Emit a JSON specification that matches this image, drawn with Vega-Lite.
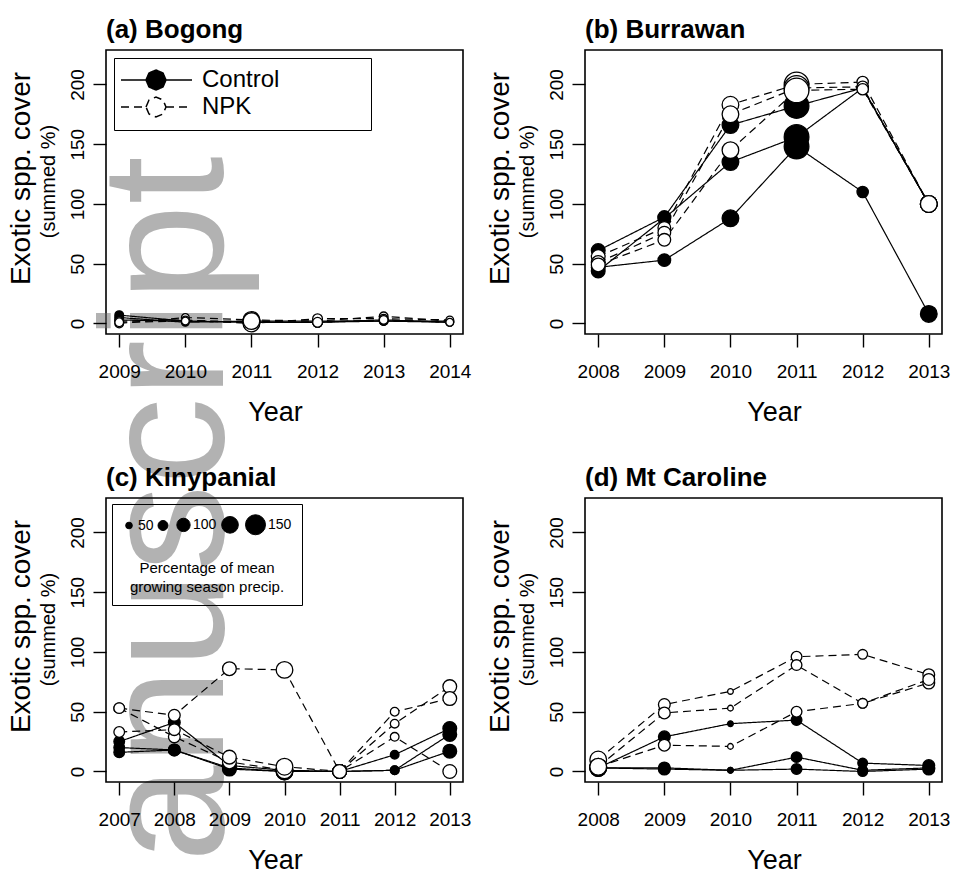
{
  "$schema": "https://vega.github.io/schema/vega-lite/v6.json",
  "padding": {"left": 6, "top": 16, "right": 5, "bottom": 5},
  "autosize": {"type": "pad"},
  "bounds": "flush",
  "background": "white",
  "datasets": {
    "cover": [
      {"site":"Bogong","year":2009,"treatment":"Control","series":"C1","cover":7,"precip":65},
      {"site":"Bogong","year":2010,"treatment":"Control","series":"C1","cover":2,"precip":58},
      {"site":"Bogong","year":2011,"treatment":"Control","series":"C1","cover":1,"precip":125},
      {"site":"Bogong","year":2012,"treatment":"Control","series":"C1","cover":1,"precip":73},
      {"site":"Bogong","year":2013,"treatment":"Control","series":"C1","cover":2,"precip":65},
      {"site":"Bogong","year":2014,"treatment":"Control","series":"C1","cover":1,"precip":58},
      {"site":"Bogong","year":2009,"treatment":"Control","series":"C2","cover":5,"precip":65},
      {"site":"Bogong","year":2010,"treatment":"Control","series":"C2","cover":1,"precip":58},
      {"site":"Bogong","year":2011,"treatment":"Control","series":"C2","cover":2,"precip":125},
      {"site":"Bogong","year":2012,"treatment":"Control","series":"C2","cover":2,"precip":73},
      {"site":"Bogong","year":2013,"treatment":"Control","series":"C2","cover":2,"precip":65},
      {"site":"Bogong","year":2014,"treatment":"Control","series":"C2","cover":2,"precip":58},
      {"site":"Bogong","year":2009,"treatment":"Control","series":"C3","cover":3,"precip":65},
      {"site":"Bogong","year":2010,"treatment":"Control","series":"C3","cover":2,"precip":58},
      {"site":"Bogong","year":2011,"treatment":"Control","series":"C3","cover":1,"precip":125},
      {"site":"Bogong","year":2012,"treatment":"Control","series":"C3","cover":1,"precip":73},
      {"site":"Bogong","year":2013,"treatment":"Control","series":"C3","cover":3,"precip":65},
      {"site":"Bogong","year":2014,"treatment":"Control","series":"C3","cover":1,"precip":58},
      {"site":"Bogong","year":2009,"treatment":"NPK","series":"N1","cover":0,"precip":65},
      {"site":"Bogong","year":2010,"treatment":"NPK","series":"N1","cover":5,"precip":58},
      {"site":"Bogong","year":2011,"treatment":"NPK","series":"N1","cover":3,"precip":125},
      {"site":"Bogong","year":2012,"treatment":"NPK","series":"N1","cover":2,"precip":73},
      {"site":"Bogong","year":2013,"treatment":"NPK","series":"N1","cover":6,"precip":65},
      {"site":"Bogong","year":2014,"treatment":"NPK","series":"N1","cover":2,"precip":58},
      {"site":"Bogong","year":2009,"treatment":"NPK","series":"N2","cover":2,"precip":65},
      {"site":"Bogong","year":2010,"treatment":"NPK","series":"N2","cover":3,"precip":58},
      {"site":"Bogong","year":2011,"treatment":"NPK","series":"N2","cover":0,"precip":125},
      {"site":"Bogong","year":2012,"treatment":"NPK","series":"N2","cover":4,"precip":73},
      {"site":"Bogong","year":2013,"treatment":"NPK","series":"N2","cover":4,"precip":65},
      {"site":"Bogong","year":2014,"treatment":"NPK","series":"N2","cover":3,"precip":58},
      {"site":"Bogong","year":2009,"treatment":"NPK","series":"N3","cover":1,"precip":65},
      {"site":"Bogong","year":2010,"treatment":"NPK","series":"N3","cover":2,"precip":58},
      {"site":"Bogong","year":2011,"treatment":"NPK","series":"N3","cover":2,"precip":125},
      {"site":"Bogong","year":2012,"treatment":"NPK","series":"N3","cover":1,"precip":73},
      {"site":"Bogong","year":2013,"treatment":"NPK","series":"N3","cover":3,"precip":65},
      {"site":"Bogong","year":2014,"treatment":"NPK","series":"N3","cover":1,"precip":58},

      {"site":"Burrawan","year":2008,"treatment":"Control","series":"C1","cover":47,"precip":103},
      {"site":"Burrawan","year":2009,"treatment":"Control","series":"C1","cover":53,"precip":95},
      {"site":"Burrawan","year":2010,"treatment":"Control","series":"C1","cover":88,"precip":125},
      {"site":"Burrawan","year":2011,"treatment":"Control","series":"C1","cover":148,"precip":185},
      {"site":"Burrawan","year":2012,"treatment":"Control","series":"C1","cover":110,"precip":85},
      {"site":"Burrawan","year":2013,"treatment":"Control","series":"C1","cover":8,"precip":125},
      {"site":"Burrawan","year":2008,"treatment":"Control","series":"C2","cover":61,"precip":103},
      {"site":"Burrawan","year":2009,"treatment":"Control","series":"C2","cover":89,"precip":95},
      {"site":"Burrawan","year":2010,"treatment":"Control","series":"C2","cover":166,"precip":125},
      {"site":"Burrawan","year":2011,"treatment":"Control","series":"C2","cover":182,"precip":185},
      {"site":"Burrawan","year":2012,"treatment":"Control","series":"C2","cover":197,"precip":85},
      {"site":"Burrawan","year":2013,"treatment":"Control","series":"C2","cover":100,"precip":125},
      {"site":"Burrawan","year":2008,"treatment":"Control","series":"C3","cover":44,"precip":103},
      {"site":"Burrawan","year":2009,"treatment":"Control","series":"C3","cover":88,"precip":95},
      {"site":"Burrawan","year":2010,"treatment":"Control","series":"C3","cover":135,"precip":125},
      {"site":"Burrawan","year":2011,"treatment":"Control","series":"C3","cover":156,"precip":185},
      {"site":"Burrawan","year":2012,"treatment":"Control","series":"C3","cover":197,"precip":85},
      {"site":"Burrawan","year":2013,"treatment":"Control","series":"C3","cover":100,"precip":125},
      {"site":"Burrawan","year":2008,"treatment":"NPK","series":"N1","cover":56,"precip":103},
      {"site":"Burrawan","year":2009,"treatment":"NPK","series":"N1","cover":80,"precip":95},
      {"site":"Burrawan","year":2010,"treatment":"NPK","series":"N1","cover":183,"precip":125},
      {"site":"Burrawan","year":2011,"treatment":"NPK","series":"N1","cover":200,"precip":185},
      {"site":"Burrawan","year":2012,"treatment":"NPK","series":"N1","cover":202,"precip":85},
      {"site":"Burrawan","year":2013,"treatment":"NPK","series":"N1","cover":100,"precip":125},
      {"site":"Burrawan","year":2008,"treatment":"NPK","series":"N2","cover":51,"precip":103},
      {"site":"Burrawan","year":2009,"treatment":"NPK","series":"N2","cover":76,"precip":95},
      {"site":"Burrawan","year":2010,"treatment":"NPK","series":"N2","cover":175,"precip":125},
      {"site":"Burrawan","year":2011,"treatment":"NPK","series":"N2","cover":197,"precip":185},
      {"site":"Burrawan","year":2012,"treatment":"NPK","series":"N2","cover":198,"precip":85},
      {"site":"Burrawan","year":2013,"treatment":"NPK","series":"N2","cover":100,"precip":125},
      {"site":"Burrawan","year":2008,"treatment":"NPK","series":"N3","cover":49,"precip":103},
      {"site":"Burrawan","year":2009,"treatment":"NPK","series":"N3","cover":70,"precip":95},
      {"site":"Burrawan","year":2010,"treatment":"NPK","series":"N3","cover":145,"precip":125},
      {"site":"Burrawan","year":2011,"treatment":"NPK","series":"N3","cover":195,"precip":185},
      {"site":"Burrawan","year":2012,"treatment":"NPK","series":"N3","cover":196,"precip":85},
      {"site":"Burrawan","year":2013,"treatment":"NPK","series":"N3","cover":100,"precip":125},

      {"site":"Kinypanial","year":2007,"treatment":"Control","series":"C1","cover":25,"precip":80},
      {"site":"Kinypanial","year":2008,"treatment":"Control","series":"C1","cover":41,"precip":88},
      {"site":"Kinypanial","year":2009,"treatment":"Control","series":"C1","cover":5,"precip":103},
      {"site":"Kinypanial","year":2010,"treatment":"Control","series":"C1","cover":1,"precip":125},
      {"site":"Kinypanial","year":2011,"treatment":"Control","series":"C1","cover":0,"precip":103},
      {"site":"Kinypanial","year":2012,"treatment":"Control","series":"C1","cover":14,"precip":65},
      {"site":"Kinypanial","year":2013,"treatment":"Control","series":"C1","cover":36,"precip":103},
      {"site":"Kinypanial","year":2007,"treatment":"Control","series":"C2","cover":20,"precip":80},
      {"site":"Kinypanial","year":2008,"treatment":"Control","series":"C2","cover":18,"precip":88},
      {"site":"Kinypanial","year":2009,"treatment":"Control","series":"C2","cover":3,"precip":103},
      {"site":"Kinypanial","year":2010,"treatment":"Control","series":"C2","cover":0,"precip":125},
      {"site":"Kinypanial","year":2011,"treatment":"Control","series":"C2","cover":0,"precip":103},
      {"site":"Kinypanial","year":2012,"treatment":"Control","series":"C2","cover":1,"precip":65},
      {"site":"Kinypanial","year":2013,"treatment":"Control","series":"C2","cover":31,"precip":103},
      {"site":"Kinypanial","year":2007,"treatment":"Control","series":"C3","cover":16,"precip":80},
      {"site":"Kinypanial","year":2008,"treatment":"Control","series":"C3","cover":18,"precip":88},
      {"site":"Kinypanial","year":2009,"treatment":"Control","series":"C3","cover":2,"precip":103},
      {"site":"Kinypanial","year":2010,"treatment":"Control","series":"C3","cover":0,"precip":125},
      {"site":"Kinypanial","year":2011,"treatment":"Control","series":"C3","cover":0,"precip":103},
      {"site":"Kinypanial","year":2012,"treatment":"Control","series":"C3","cover":1,"precip":65},
      {"site":"Kinypanial","year":2013,"treatment":"Control","series":"C3","cover":17,"precip":103},
      {"site":"Kinypanial","year":2007,"treatment":"NPK","series":"N1","cover":53,"precip":80},
      {"site":"Kinypanial","year":2008,"treatment":"NPK","series":"N1","cover":47,"precip":88},
      {"site":"Kinypanial","year":2009,"treatment":"NPK","series":"N1","cover":86,"precip":103},
      {"site":"Kinypanial","year":2010,"treatment":"NPK","series":"N1","cover":85,"precip":125},
      {"site":"Kinypanial","year":2011,"treatment":"NPK","series":"N1","cover":0,"precip":103},
      {"site":"Kinypanial","year":2012,"treatment":"NPK","series":"N1","cover":40,"precip":65},
      {"site":"Kinypanial","year":2013,"treatment":"NPK","series":"N1","cover":71,"precip":103},
      {"site":"Kinypanial","year":2007,"treatment":"NPK","series":"N2","cover":53,"precip":80},
      {"site":"Kinypanial","year":2008,"treatment":"NPK","series":"N2","cover":29,"precip":88},
      {"site":"Kinypanial","year":2009,"treatment":"NPK","series":"N2","cover":8,"precip":103},
      {"site":"Kinypanial","year":2010,"treatment":"NPK","series":"N2","cover":1,"precip":125},
      {"site":"Kinypanial","year":2011,"treatment":"NPK","series":"N2","cover":0,"precip":103},
      {"site":"Kinypanial","year":2012,"treatment":"NPK","series":"N2","cover":50,"precip":65},
      {"site":"Kinypanial","year":2013,"treatment":"NPK","series":"N2","cover":61,"precip":103},
      {"site":"Kinypanial","year":2007,"treatment":"NPK","series":"N3","cover":33,"precip":80},
      {"site":"Kinypanial","year":2008,"treatment":"NPK","series":"N3","cover":35,"precip":88},
      {"site":"Kinypanial","year":2009,"treatment":"NPK","series":"N3","cover":12,"precip":103},
      {"site":"Kinypanial","year":2010,"treatment":"NPK","series":"N3","cover":4,"precip":125},
      {"site":"Kinypanial","year":2011,"treatment":"NPK","series":"N3","cover":0,"precip":103},
      {"site":"Kinypanial","year":2012,"treatment":"NPK","series":"N3","cover":29,"precip":65},
      {"site":"Kinypanial","year":2013,"treatment":"NPK","series":"N3","cover":0,"precip":103},

      {"site":"Mt Caroline","year":2008,"treatment":"Control","series":"C1","cover":3,"precip":125},
      {"site":"Mt Caroline","year":2009,"treatment":"Control","series":"C1","cover":29,"precip":88},
      {"site":"Mt Caroline","year":2010,"treatment":"Control","series":"C1","cover":40,"precip":43},
      {"site":"Mt Caroline","year":2011,"treatment":"Control","series":"C1","cover":43,"precip":80},
      {"site":"Mt Caroline","year":2012,"treatment":"Control","series":"C1","cover":7,"precip":73},
      {"site":"Mt Caroline","year":2013,"treatment":"Control","series":"C1","cover":5,"precip":88},
      {"site":"Mt Caroline","year":2008,"treatment":"Control","series":"C2","cover":3,"precip":125},
      {"site":"Mt Caroline","year":2009,"treatment":"Control","series":"C2","cover":3,"precip":88},
      {"site":"Mt Caroline","year":2010,"treatment":"Control","series":"C2","cover":1,"precip":43},
      {"site":"Mt Caroline","year":2011,"treatment":"Control","series":"C2","cover":12,"precip":80},
      {"site":"Mt Caroline","year":2012,"treatment":"Control","series":"C2","cover":1,"precip":73},
      {"site":"Mt Caroline","year":2013,"treatment":"Control","series":"C2","cover":3,"precip":88},
      {"site":"Mt Caroline","year":2008,"treatment":"Control","series":"C3","cover":3,"precip":125},
      {"site":"Mt Caroline","year":2009,"treatment":"Control","series":"C3","cover":2,"precip":88},
      {"site":"Mt Caroline","year":2010,"treatment":"Control","series":"C3","cover":1,"precip":43},
      {"site":"Mt Caroline","year":2011,"treatment":"Control","series":"C3","cover":2,"precip":80},
      {"site":"Mt Caroline","year":2012,"treatment":"Control","series":"C3","cover":0,"precip":73},
      {"site":"Mt Caroline","year":2013,"treatment":"Control","series":"C3","cover":2,"precip":88},
      {"site":"Mt Caroline","year":2008,"treatment":"NPK","series":"N1","cover":10,"precip":125},
      {"site":"Mt Caroline","year":2009,"treatment":"NPK","series":"N1","cover":56,"precip":88},
      {"site":"Mt Caroline","year":2010,"treatment":"NPK","series":"N1","cover":67,"precip":43},
      {"site":"Mt Caroline","year":2011,"treatment":"NPK","series":"N1","cover":96,"precip":80},
      {"site":"Mt Caroline","year":2012,"treatment":"NPK","series":"N1","cover":98,"precip":73},
      {"site":"Mt Caroline","year":2013,"treatment":"NPK","series":"N1","cover":81,"precip":88},
      {"site":"Mt Caroline","year":2008,"treatment":"NPK","series":"N2","cover":4,"precip":125},
      {"site":"Mt Caroline","year":2009,"treatment":"NPK","series":"N2","cover":49,"precip":88},
      {"site":"Mt Caroline","year":2010,"treatment":"NPK","series":"N2","cover":53,"precip":43},
      {"site":"Mt Caroline","year":2011,"treatment":"NPK","series":"N2","cover":89,"precip":80},
      {"site":"Mt Caroline","year":2012,"treatment":"NPK","series":"N2","cover":57,"precip":73},
      {"site":"Mt Caroline","year":2013,"treatment":"NPK","series":"N2","cover":74,"precip":88},
      {"site":"Mt Caroline","year":2008,"treatment":"NPK","series":"N3","cover":4,"precip":125},
      {"site":"Mt Caroline","year":2009,"treatment":"NPK","series":"N3","cover":22,"precip":88},
      {"site":"Mt Caroline","year":2010,"treatment":"NPK","series":"N3","cover":21,"precip":43},
      {"site":"Mt Caroline","year":2011,"treatment":"NPK","series":"N3","cover":50,"precip":80},
      {"site":"Mt Caroline","year":2012,"treatment":"NPK","series":"N3","cover":57,"precip":73},
      {"site":"Mt Caroline","year":2013,"treatment":"NPK","series":"N3","cover":77,"precip":88}
    ]
  },
  "columns": 2,
  "spacing": {"row": 164, "column": 122},
  "concat": [
    {
      "width": 357, "height": 284,
      "title": "(a) Bogong",
      "layer": [
        {
          "data": {"values": [{"label": "anuscript"}]},
          "mark": {"type": "text", "angle": 270, "align": "right", "baseline": "alphabetic", "fontSize": 174, "font": "Liberation Sans", "fill": "#666666", "fillOpacity": 0.5},
          "encoding": {
            "x": {"datum": 2010.57, "type": "quantitative", "scale": {"domain": [2008.8, 2014.2], "nice": false, "zero": false},
                  "axis": {"zindex": 1, "values": [2009, 2010, 2011, 2012, 2013, 2014], "format": "d", "labelFlush": false, "labelOverlap": false, "labelPadding": 15, "title": "Year", "titleFontSize": 27, "titlePadding": 18, "titleX": 169}},
            "y": {"datum": 140, "type": "quantitative", "axis": null},
            "text": {"field": "label", "type": "nominal"}
          }
        },
        {
          "data": {"name": "cover"},
          "transform": [{"filter": "datum.site === 'Bogong'"}],
          "mark": {"type": "line", "color": "black", "strokeWidth": 1.2},
          "encoding": {
            "x": {"field": "year", "type": "quantitative", "scale": {"domain": [2008.8, 2014.2], "nice": false, "zero": false},
                  "axis": {"zindex": 1, "values": [2009, 2010, 2011, 2012, 2013, 2014], "format": "d", "labelFlush": false, "labelOverlap": false, "labelPadding": 15, "title": "Year", "titleFontSize": 27, "titlePadding": 18, "titleX": 169}},
            "y": {"field": "cover", "type": "quantitative", "scale": {"domain": [-8.8, 228.8], "nice": false, "zero": false},
                  "axis": {"zindex": 1, "orient": "left", "values": [0, 50, 100, 150, 200], "labelAngle": 270, "labelAlign": "center", "labelBaseline": "bottom", "labelPadding": 6, "title": "(summed %)", "titleFontSize": 20, "titlePadding": 10, "titleY": 131}},
            "detail": {"field": "series"},
            "strokeDash": {"field": "treatment", "type": "nominal", "scale": {"domain": ["Control", "NPK"], "range": [[1, 0], [8, 5]]},
                           "legend": {"orient": "top-left", "offset": 8, "title": null, "padding": 10, "strokeColor": "black", "fillColor": "white",
                                      "symbolSize": 400, "symbolType": "M-3.5,0H-1M1,0H3.6M-1,0L-0.7,-0.7L0,-1L0.7,-0.7L1,0L0.7,0.7L0,1L-0.7,0.7ZM20.1,0h0.001",
                                      "symbolStrokeColor": "black", "symbolStrokeWidth": 1.5, "symbolOffset": 20,
                                      "labelFontSize": 24, "labelColor": "black", "labelOffset": 34, "rowPadding": 1}}
          }
        },
        {
          "data": {"name": "cover"},
          "transform": [{"filter": "datum.site === 'Bogong'"}],
          "mark": {"type": "point", "filled": true, "shape": "circle", "stroke": "black", "strokeWidth": 1.3, "opacity": 1},
          "encoding": {
            "x": {"field": "year", "type": "quantitative", "scale": {"domain": [2008.8, 2014.2], "nice": false, "zero": false},
                  "axis": {"zindex": 1, "values": [2009, 2010, 2011, 2012, 2013, 2014], "format": "d", "labelFlush": false, "labelOverlap": false, "labelPadding": 15, "title": "Year", "titleFontSize": 27, "titlePadding": 18, "titleX": 169}},
            "y": {"field": "cover", "type": "quantitative", "scale": {"domain": [-8.8, 228.8], "nice": false, "zero": false},
                  "axis": {"orient": "left", "labels": false, "ticks": false, "domain": false, "title": "Exotic spp. cover", "titleFontSize": 28, "titlePadding": 71, "titleY": 128}},
            "fill": {"field": "treatment", "type": "nominal", "scale": {"domain": ["Control", "NPK"], "range": ["black", "white"]},
                     "legend": {"orient": "top-left", "offset": 8, "title": null, "padding": 10, "strokeColor": "black", "fillColor": "white",
                                "symbolSize": 400, "symbolType": "M-3.5,0H-1M1,0H3.6M-1,0L-0.7,-0.7L0,-1L0.7,-0.7L1,0L0.7,0.7L0,1L-0.7,0.7ZM20.1,0h0.001",
                                "symbolStrokeColor": "black", "symbolStrokeWidth": 1.5, "symbolOffset": 20,
                                "labelFontSize": 24, "labelColor": "black", "labelOffset": 34, "rowPadding": 1}},
            "size": {"field": "precip", "type": "quantitative", "scale": {"type": "pow", "exponent": 2, "domain": [0, 150], "range": [0, 400]}, "legend": null}
          }
        }
      ],
      "resolve": {"axis": {"y": "independent"}}
    },
    {
      "width": 357, "height": 284,
      "title": "(b) Burrawan",
      "encoding": {
        "x": {"field": "year", "type": "quantitative", "scale": {"domain": [2007.8, 2013.2], "nice": false, "zero": false},
              "axis": {"values": [2008, 2009, 2010, 2011, 2012, 2013], "format": "d", "labelFlush": false, "labelOverlap": false, "labelPadding": 15, "title": "Year", "titleFontSize": 27, "titlePadding": 18, "titleX": 189}}
      },
      "layer": [
        {
          "data": {"name": "cover"},
          "transform": [{"filter": "datum.site === 'Burrawan'"}],
          "mark": {"type": "line", "color": "black", "strokeWidth": 1.2},
          "encoding": {
            "y": {"field": "cover", "type": "quantitative", "scale": {"domain": [-8.8, 228.8], "nice": false, "zero": false},
                  "axis": {"orient": "left", "values": [0, 50, 100, 150, 200], "labelAngle": 270, "labelAlign": "center", "labelBaseline": "bottom", "labelPadding": 6, "title": "(summed %)", "titleFontSize": 20, "titlePadding": 10, "titleY": 131}},
            "detail": {"field": "series"},
            "strokeDash": {"field": "treatment", "type": "nominal", "scale": {"domain": ["Control", "NPK"], "range": [[1, 0], [8, 5]]}, "legend": null}
          }
        },
        {
          "data": {"name": "cover"},
          "transform": [{"filter": "datum.site === 'Burrawan'"}],
          "mark": {"type": "point", "filled": true, "shape": "circle", "stroke": "black", "strokeWidth": 1.3, "opacity": 1},
          "encoding": {
            "y": {"field": "cover", "type": "quantitative", "scale": {"domain": [-8.8, 228.8], "nice": false, "zero": false},
                  "axis": {"orient": "left", "labels": false, "ticks": false, "domain": false, "title": "Exotic spp. cover", "titleFontSize": 28, "titlePadding": 71, "titleY": 128}},
            "fill": {"field": "treatment", "type": "nominal", "scale": {"domain": ["Control", "NPK"], "range": ["black", "white"]}, "legend": null},
            "size": {"field": "precip", "type": "quantitative", "scale": {"type": "pow", "exponent": 2, "domain": [0, 150], "range": [0, 400]}, "legend": null}
          }
        }
      ],
      "resolve": {"axis": {"y": "independent"}}
    },
    {
      "width": 357, "height": 284,
      "title": "(c) Kinypanial",
      "encoding": {
        "x": {"field": "year", "type": "quantitative", "scale": {"domain": [2006.76, 2013.24], "nice": false, "zero": false},
              "axis": {"values": [2007, 2008, 2009, 2010, 2011, 2012, 2013], "format": "d", "labelFlush": false, "labelOverlap": false, "labelPadding": 15, "title": "Year", "titleFontSize": 27, "titlePadding": 18, "titleX": 169}}
      },
      "layer": [
        {
          "data": {"name": "cover"},
          "transform": [{"filter": "datum.site === 'Kinypanial'"}],
          "mark": {"type": "line", "color": "black", "strokeWidth": 1.2},
          "encoding": {
            "y": {"field": "cover", "type": "quantitative", "scale": {"domain": [-8.8, 228.8], "nice": false, "zero": false},
                  "axis": {"orient": "left", "values": [0, 50, 100, 150, 200], "labelAngle": 270, "labelAlign": "center", "labelBaseline": "bottom", "labelPadding": 6, "title": "(summed %)", "titleFontSize": 20, "titlePadding": 10, "titleY": 131}},
            "detail": {"field": "series"},
            "strokeDash": {"field": "treatment", "type": "nominal", "scale": {"domain": ["Control", "NPK"], "range": [[1, 0], [8, 5]]}, "legend": null}
          }
        },
        {
          "data": {"name": "cover"},
          "transform": [{"filter": "datum.site === 'Kinypanial'"}],
          "mark": {"type": "point", "filled": true, "shape": "circle", "stroke": "black", "strokeWidth": 1.3, "opacity": 1},
          "encoding": {
            "y": {"field": "cover", "type": "quantitative", "scale": {"domain": [-8.8, 228.8], "nice": false, "zero": false},
                  "axis": {"orient": "left", "labels": false, "ticks": false, "domain": false, "title": "Exotic spp. cover", "titleFontSize": 28, "titlePadding": 71, "titleY": 128}},
            "fill": {"field": "treatment", "type": "nominal", "scale": {"domain": ["Control", "NPK"], "range": ["black", "white"]}, "legend": null},
            "size": {"field": "precip", "type": "quantitative", "scale": {"type": "pow", "exponent": 2, "domain": [0, 150], "range": [0, 400]},
                     "legend": {"orient": "top-left", "offset": 6, "direction": "horizontal", "values": [50, 75, 100, 125, 150],
                                "title": ["Percentage of mean", "growing season precip."], "titleOrient": "bottom", "titleAnchor": "middle", "titleAlign": "center",
                                "titleFontSize": 15, "titleFontWeight": "normal", "titleLineHeight": 19, "titlePadding": 24, "titleColor": "black",
                                "labelFontSize": 14, "labelColor": "black", "labelExpr": "datum.value % 50 === 0 ? datum.label : ''", "labelOffset": 2,
                                "symbolType": "circle", "symbolFillColor": "black", "symbolStrokeColor": "black", "symbolStrokeWidth": 1,
                                "strokeColor": "black", "padding": 10, "columnPadding": 2}}
          }
        }
      ],
      "resolve": {"axis": {"y": "independent"}}
    },
    {
      "width": 357, "height": 284,
      "title": "(d) Mt Caroline",
      "encoding": {
        "x": {"field": "year", "type": "quantitative", "scale": {"domain": [2007.8, 2013.2], "nice": false, "zero": false},
              "axis": {"values": [2008, 2009, 2010, 2011, 2012, 2013], "format": "d", "labelFlush": false, "labelOverlap": false, "labelPadding": 15, "title": "Year", "titleFontSize": 27, "titlePadding": 18, "titleX": 189}}
      },
      "layer": [
        {
          "data": {"name": "cover"},
          "transform": [{"filter": "datum.site === 'Mt Caroline'"}],
          "mark": {"type": "line", "color": "black", "strokeWidth": 1.2},
          "encoding": {
            "y": {"field": "cover", "type": "quantitative", "scale": {"domain": [-8.8, 228.8], "nice": false, "zero": false},
                  "axis": {"orient": "left", "values": [0, 50, 100, 150, 200], "labelAngle": 270, "labelAlign": "center", "labelBaseline": "bottom", "labelPadding": 6, "title": "(summed %)", "titleFontSize": 20, "titlePadding": 10, "titleY": 131}},
            "detail": {"field": "series"},
            "strokeDash": {"field": "treatment", "type": "nominal", "scale": {"domain": ["Control", "NPK"], "range": [[1, 0], [8, 5]]}, "legend": null}
          }
        },
        {
          "data": {"name": "cover"},
          "transform": [{"filter": "datum.site === 'Mt Caroline'"}],
          "mark": {"type": "point", "filled": true, "shape": "circle", "stroke": "black", "strokeWidth": 1.3, "opacity": 1},
          "encoding": {
            "y": {"field": "cover", "type": "quantitative", "scale": {"domain": [-8.8, 228.8], "nice": false, "zero": false},
                  "axis": {"orient": "left", "labels": false, "ticks": false, "domain": false, "title": "Exotic spp. cover", "titleFontSize": 28, "titlePadding": 71, "titleY": 128}},
            "fill": {"field": "treatment", "type": "nominal", "scale": {"domain": ["Control", "NPK"], "range": ["black", "white"]}, "legend": null},
            "size": {"field": "precip", "type": "quantitative", "scale": {"type": "pow", "exponent": 2, "domain": [0, 150], "range": [0, 400]}, "legend": null}
          }
        }
      ],
      "resolve": {"axis": {"y": "independent"}}
    }
  ],
  "resolve": {"scale": {"fill": "independent", "size": "independent", "strokeDash": "independent"}},
  "config": {
    "font": "Liberation Sans",
    "view": {"stroke": "black", "strokeWidth": 1.6},
    "axis": {"grid": false, "domain": false, "zindex": 1, "tickColor": "black", "tickWidth": 1.4, "tickSize": 13, "labelColor": "black", "titleColor": "black",
             "labelFont": "Liberation Sans", "titleFont": "Liberation Sans", "titleFontWeight": "normal", "labelFontSize": 19},
    "title": {"font": "Liberation Sans", "fontSize": 26, "fontWeight": "bold", "anchor": "start", "frame": "group", "baseline": "alphabetic", "offset": 7, "color": "black"},
    "legend": {"labelFont": "Liberation Sans", "titleFont": "Liberation Sans"}
  }
}
